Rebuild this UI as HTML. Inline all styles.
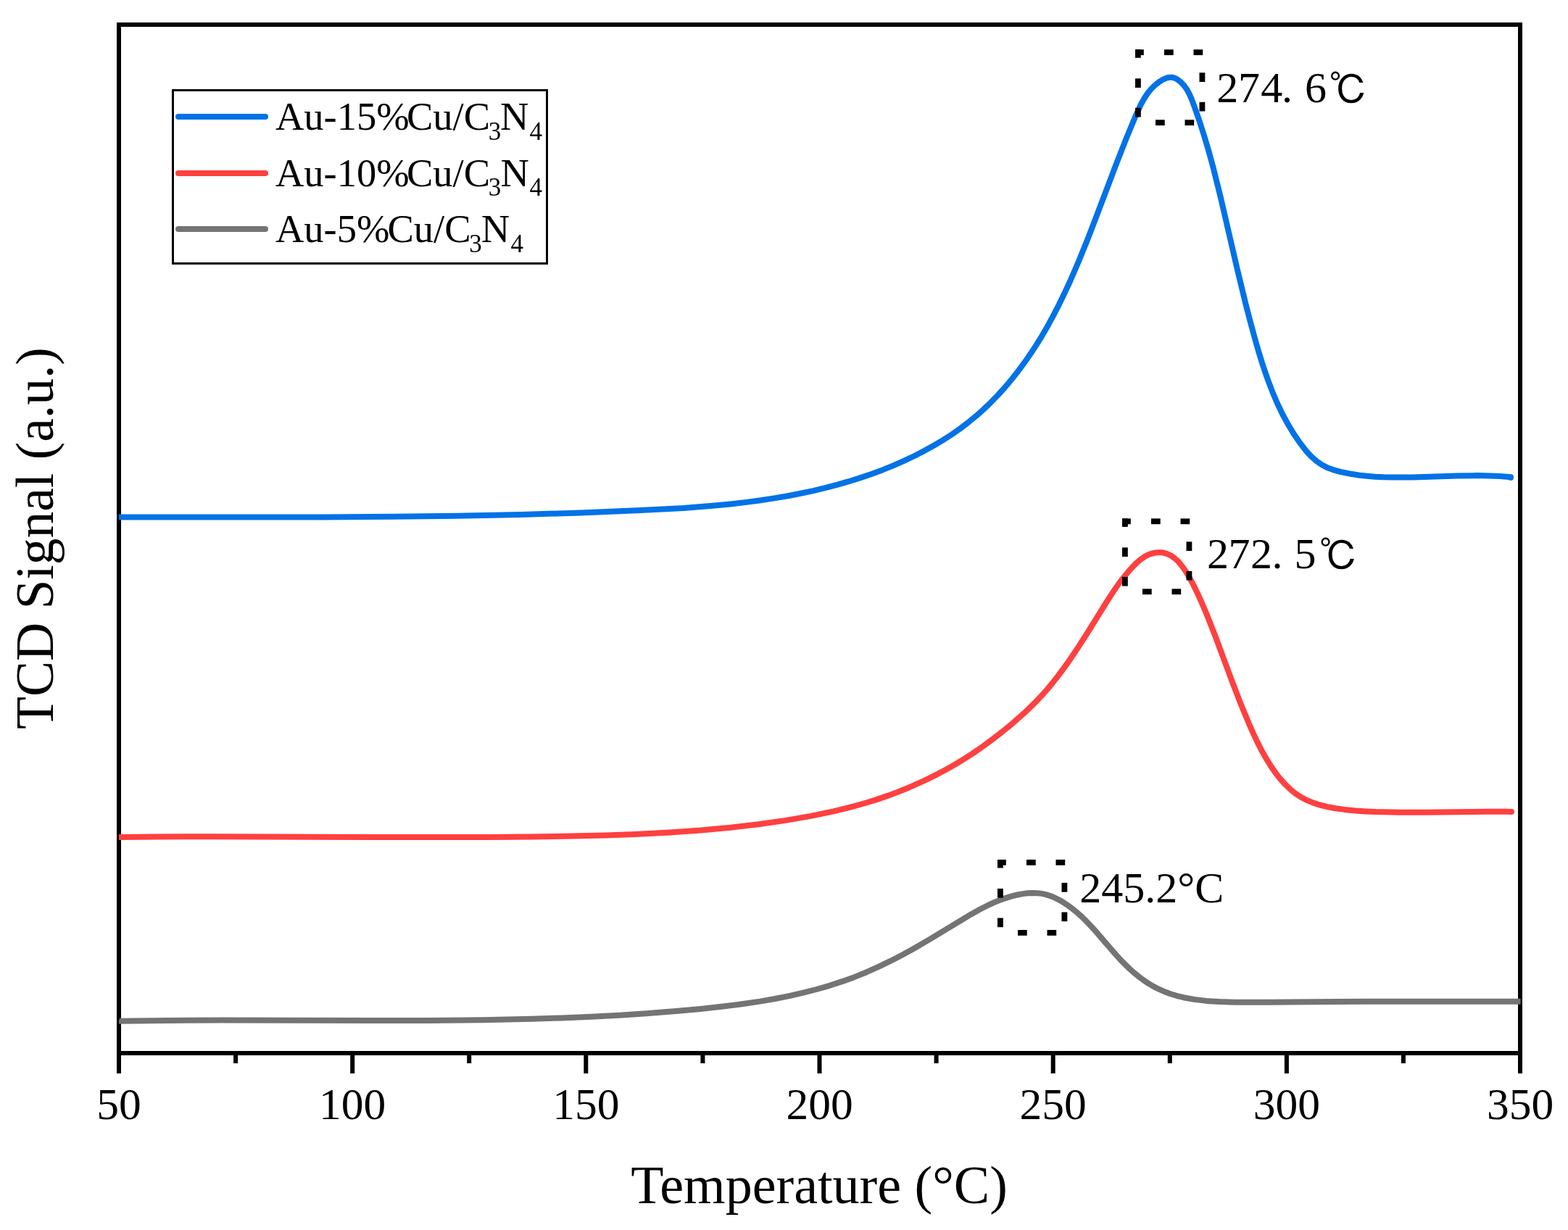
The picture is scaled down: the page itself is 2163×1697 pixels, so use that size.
<!DOCTYPE html>
<html><head><meta charset="utf-8"><title>TCD Signal vs Temperature</title><style>
html,body{margin:0;padding:0;background:#fff;width:2163px;height:1697px;overflow:hidden}
svg{display:block}
text{font-family:"Liberation Serif","Noto Serif CJK SC",serif;fill:#000}
</style></head><body>
<svg width="2163" height="1697" viewBox="0 0 2163 1697">
<rect width="2163" height="1697" fill="#fff"/>
<rect x="164" y="34" width="1933" height="1419" fill="none" stroke="#000" stroke-width="6"/>
<g stroke="#000" stroke-width="6"><line x1="164.0" y1="1453" x2="164.0" y2="1481"/><line x1="486.2" y1="1453" x2="486.2" y2="1481"/><line x1="808.3" y1="1453" x2="808.3" y2="1481"/><line x1="1130.5" y1="1453" x2="1130.5" y2="1481"/><line x1="1452.7" y1="1453" x2="1452.7" y2="1481"/><line x1="1774.9" y1="1453" x2="1774.9" y2="1481"/><line x1="2097.0" y1="1453" x2="2097.0" y2="1481"/><line x1="325.1" y1="1453" x2="325.1" y2="1467"/><line x1="647.2" y1="1453" x2="647.2" y2="1467"/><line x1="969.4" y1="1453" x2="969.4" y2="1467"/><line x1="1291.6" y1="1453" x2="1291.6" y2="1467"/><line x1="1613.8" y1="1453" x2="1613.8" y2="1467"/><line x1="1935.9" y1="1453" x2="1935.9" y2="1467"/></g>
<defs><clipPath id="pc"><rect x="164" y="0" width="1999" height="1697"/></clipPath></defs>
<g clip-path="url(#pc)" fill="none" stroke-width="8" stroke-linejoin="round">
<path d="M164.0,713.5 L348.1,713.6 L446.1,713.5 L543.0,712.8 L630.9,711.7 L718.8,709.9 L801.8,707.5 L883.9,704.1 L943.0,700.9 L988.9,697.2 L1009.8,695.2 L1029.7,692.9 L1049.4,690.2 L1068.1,687.4 L1086.8,684.2 L1104.4,680.8 L1121.9,677.1 L1138.3,673.2 L1154.7,668.9 L1170.9,664.2 L1187.1,659.1 L1202.2,654.0 L1217.3,648.4 L1232.2,642.4 L1246.9,635.9 L1261.5,629.0 L1274.9,622.1 L1288.1,614.8 L1301.0,607.1 L1312.8,599.5 L1324.3,591.5 L1335.4,583.0 L1346.2,574.2 L1356.6,565.0 L1366.7,555.3 L1376.4,545.3 L1385.8,535.0 L1395.4,523.5 L1404.7,511.7 L1413.6,499.7 L1421.6,488.1 L1429.8,475.6 L1437.7,462.8 L1445.7,448.9 L1453.3,434.8 L1460.7,420.6 L1468.1,405.3 L1475.7,389.0 L1487.6,361.5 L1500.4,330.0 L1512.2,299.3 L1539.7,226.6 L1553.6,191.1 L1566.4,160.2 L1573.6,144.5 L1577.9,136.7 L1582.7,129.3 L1587.5,123.3 L1592.2,118.5 L1598.1,113.6 L1603.9,109.9 L1609.2,107.6 L1611.9,106.9 L1614.6,106.7 L1616.4,106.8 L1619.1,107.3 L1621.7,108.3 L1624.2,109.6 L1628.9,113.2 L1633.6,118.2 L1637.5,123.8 L1640.8,130.0 L1644.0,137.4 L1647.9,147.9 L1654.6,167.1 L1660.8,186.4 L1667.1,207.5 L1673.2,229.7 L1683.8,272.3 L1707.0,372.4 L1718.3,419.0 L1724.6,443.3 L1730.9,466.5 L1736.7,486.8 L1742.4,505.0 L1748.9,523.9 L1755.3,540.7 L1761.9,556.3 L1769.2,571.5 L1776.8,585.5 L1785.0,599.1 L1793.5,611.4 L1802.1,622.5 L1808.8,629.8 L1816.2,636.3 L1823.4,641.3 L1830.4,644.9 L1838.8,648.1 L1848.6,650.9 L1861.5,653.5 L1875.5,655.7 L1885.5,656.8 L1896.4,657.7 L1908.3,658.3 L1920.3,658.6 L1949.2,658.5 L2010.2,656.5 L2037.2,656.1 L2054.2,656.4 L2069.1,657.1 L2084.0,658.2 L2084.0,659.0" stroke="#0272E6" stroke-linecap="round"/>
<path d="M164.0,1155.0 L217.0,1154.4 L295.0,1154.2 L563.0,1155.1 L672.9,1155.0 L733.0,1154.4 L789.0,1153.5 L835.0,1152.4 L877.0,1150.9 L923.9,1148.5 L966.8,1145.5 L1007.6,1141.7 L1046.3,1137.2 L1083.9,1131.9 L1118.4,1125.9 L1149.7,1119.4 L1165.3,1115.7 L1179.8,1111.9 L1195.1,1107.5 L1209.4,1103.1 L1224.5,1097.9 L1238.5,1092.7 L1253.3,1086.7 L1267.0,1080.7 L1280.6,1074.4 L1294.0,1067.6 L1307.3,1060.5 L1319.5,1053.5 L1331.5,1046.2 L1344.2,1037.9 L1356.6,1029.3 L1368.8,1020.3 L1381.5,1010.5 L1393.9,1000.4 L1412.5,984.1 L1421.1,975.9 L1429.5,967.6 L1436.9,959.7 L1444.2,951.6 L1451.8,942.4 L1459.2,933.0 L1472.9,914.5 L1487.0,893.6 L1501.1,871.5 L1527.4,829.1 L1536.0,815.8 L1545.7,802.0 L1555.8,789.4 L1561.9,782.6 L1567.8,776.7 L1573.2,772.0 L1578.1,768.6 L1583.2,765.7 L1587.7,764.0 L1592.4,762.8 L1598.1,762.2 L1601.9,762.3 L1604.7,762.6 L1610.0,764.1 L1615.0,766.4 L1620.3,770.1 L1625.3,774.6 L1630.4,780.7 L1635.7,788.2 L1640.5,796.2 L1645.9,806.3 L1652.2,819.2 L1658.0,832.1 L1664.3,846.8 L1675.9,876.2 L1700.6,942.6 L1711.4,970.7 L1723.7,1000.3 L1729.4,1013.1 L1734.5,1023.9 L1740.4,1035.5 L1746.8,1046.8 L1753.7,1057.9 L1760.0,1067.0 L1766.2,1074.8 L1772.9,1082.2 L1780.0,1089.0 L1786.8,1094.6 L1794.1,1099.4 L1801.8,1103.6 L1810.9,1107.4 L1820.4,1110.5 L1831.2,1113.2 L1842.3,1115.2 L1854.5,1116.9 L1869.7,1118.4 L1883.7,1119.4 L1897.6,1120.1 L1930.2,1120.8 L1967.0,1120.7 L2052.3,1119.7 L2077.1,1119.7 L2085.0,1119.9" stroke="#FF4040" stroke-linecap="round"/>
<path d="M164.0,1408.5 L165.2,1408.8 L231.0,1407.9 L305.9,1407.5 L515.1,1408.0 L591.1,1407.9 L666.1,1407.2 L733.0,1405.8 L774.8,1404.4 L815.7,1402.7 L854.6,1400.7 L891.5,1398.3 L929.5,1395.3 L966.5,1392.0 L997.5,1388.6 L1025.4,1385.0 L1048.3,1381.6 L1069.0,1378.0 L1088.6,1374.1 L1108.0,1369.7 L1126.3,1365.0 L1144.4,1359.8 L1162.3,1353.9 L1179.0,1347.9 L1195.5,1341.2 L1211.8,1333.9 L1228.8,1325.7 L1245.6,1317.0 L1262.3,1307.7 L1279.7,1297.6 L1339.1,1261.7 L1352.4,1254.3 L1364.9,1248.0 L1373.0,1244.4 L1381.2,1241.1 L1388.6,1238.6 L1396.0,1236.4 L1403.5,1234.5 L1411.1,1233.1 L1417.8,1232.3 L1424.5,1232.0 L1431.2,1232.2 L1437.0,1232.9 L1442.6,1234.1 L1448.2,1235.8 L1453.8,1238.0 L1460.0,1241.1 L1466.2,1244.6 L1472.9,1249.0 L1479.4,1253.8 L1485.7,1258.9 L1492.5,1265.0 L1499.0,1271.4 L1511.5,1284.8 L1535.8,1313.2 L1545.8,1324.4 L1557.2,1335.7 L1563.2,1341.1 L1569.4,1346.2 L1576.5,1351.6 L1583.9,1356.6 L1591.5,1361.1 L1598.5,1364.7 L1606.5,1368.2 L1614.7,1371.2 L1623.1,1373.8 L1632.7,1376.2 L1647.3,1378.9 L1664.2,1380.9 L1682.3,1382.1 L1703.7,1382.7 L1751.2,1382.7 L1883.6,1381.8 L2097.5,1381.8" stroke="#747474" stroke-linecap="butt"/>
</g>
<g font-size="61.5" text-anchor="middle"><text x="164.0" y="1544.4">50</text><text x="486.2" y="1544.4">100</text><text x="808.3" y="1544.4">150</text><text x="1130.5" y="1544.4">200</text><text x="1452.7" y="1544.4">250</text><text x="1774.9" y="1544.4">300</text><text x="2097.0" y="1544.4">350</text></g>
<text x="1130" y="1660" font-size="74" text-anchor="middle">Temperature (°C)</text>
<text transform="translate(73,742.6) rotate(-90)" font-size="73.5" text-anchor="middle">TCD Signal (a.u.)</text>
<rect x="238.5" y="124.5" width="516" height="239" fill="none" stroke="#000" stroke-width="3"/>
<g stroke-width="8" stroke-linecap="round">
<line x1="246" y1="161" x2="366" y2="161" stroke="#0272E6"/>
<line x1="246" y1="239" x2="366" y2="239" stroke="#FF4040"/>
<line x1="246" y1="316" x2="366" y2="316" stroke="#747474"/>
</g>
<text font-size="54.5" y="179.0"><tspan x="380">Au-15%</tspan><tspan x="561.0">Cu/C</tspan><tspan font-size="35" x="673.7" y="192.6">3</tspan><tspan x="690.0" y="179.0">N</tspan><tspan font-size="35" x="730.6" y="192.6">4</tspan></text>
<text font-size="54.5" y="257.3"><tspan x="380">Au-10%</tspan><tspan x="561.0">Cu/C</tspan><tspan font-size="35" x="673.7" y="270.3">3</tspan><tspan x="690.5" y="257.3">N</tspan><tspan font-size="35" x="730.6" y="270.3">4</tspan></text>
<text font-size="54.5" y="334.0"><tspan x="380">Au-5%</tspan><tspan x="534.5">Cu/C</tspan><tspan font-size="35" x="647.2" y="348.1">3</tspan><tspan x="663.8" y="334.0">N</tspan><tspan font-size="35" x="704.5" y="348.1">4</tspan></text>
<g fill="#000"><rect x="1566.0" y="68.3" width="11.8" height="7.8"/><rect x="1606.0" y="68.3" width="12.7" height="7.8"/><rect x="1646.5" y="68.3" width="12.7" height="7.8"/><rect x="1566.0" y="68.3" width="7.8" height="11.5"/><rect x="1566.0" y="108.3" width="7.8" height="12.7"/><rect x="1566.0" y="148.8" width="7.8" height="12.7"/><rect x="1654.5" y="100.3" width="7.8" height="12.7"/><rect x="1654.5" y="140.8" width="7.8" height="12.7"/><rect x="1594.0" y="165.3" width="12.7" height="7.8"/><rect x="1634.5" y="165.3" width="12.7" height="7.8"/><rect x="1548.0" y="715.4" width="11.8" height="7.8"/><rect x="1588.0" y="715.4" width="12.7" height="7.8"/><rect x="1628.5" y="715.4" width="12.7" height="7.8"/><rect x="1548.0" y="715.4" width="7.8" height="11.5"/><rect x="1548.0" y="755.4" width="7.8" height="12.7"/><rect x="1548.0" y="795.9" width="7.8" height="12.7"/><rect x="1636.5" y="747.4" width="7.8" height="12.7"/><rect x="1636.5" y="787.9" width="7.8" height="12.7"/><rect x="1576.0" y="812.4" width="12.7" height="7.8"/><rect x="1616.5" y="812.4" width="12.7" height="7.8"/><rect x="1376.0" y="1186.0" width="11.8" height="7.8"/><rect x="1416.0" y="1186.0" width="12.7" height="7.8"/><rect x="1456.5" y="1186.0" width="12.7" height="7.8"/><rect x="1376.0" y="1186.0" width="7.8" height="11.5"/><rect x="1376.0" y="1226.0" width="7.8" height="12.7"/><rect x="1376.0" y="1266.5" width="7.8" height="12.7"/><rect x="1464.5" y="1218.0" width="7.8" height="12.7"/><rect x="1464.5" y="1258.5" width="7.8" height="12.7"/><rect x="1404.0" y="1283.0" width="12.7" height="7.8"/><rect x="1444.5" y="1283.0" width="12.7" height="7.8"/></g>
<text font-size="60"><tspan x="1678.3" y="141.0">2</tspan><tspan x="1707.9" y="141.0">7</tspan><tspan x="1739.3" y="141.0">4</tspan><tspan x="1767.9" y="141.0">.</tspan><tspan x="1799.9" y="141.0">6</tspan></text><text style="font-family:IPAGothic,'Noto Serif CJK SC',serif" font-size="55" transform="translate(1833.2,143.6) scale(0.98,1.00)">℃</text>
<text font-size="60"><tspan x="1664.9" y="784.1">2</tspan><tspan x="1694.5" y="784.1">7</tspan><tspan x="1724.9" y="784.1">2</tspan><tspan x="1754.5" y="784.1">.</tspan><tspan x="1785.5" y="784.1">5</tspan></text><text style="font-family:IPAGothic,'Noto Serif CJK SC',serif" font-size="55" transform="translate(1819.8,786.6) scale(0.98,1.00)">℃</text>
<text font-size="60" x="1489.3" y="1245">245.2°C</text>
</svg>
</body></html>
